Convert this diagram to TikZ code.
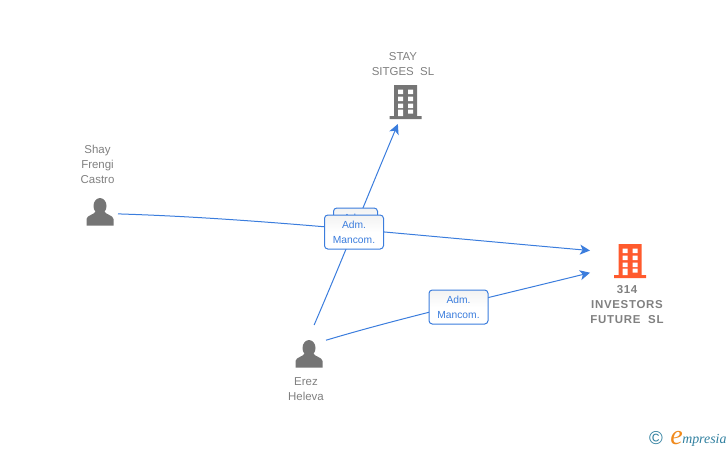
\documentclass[tikz,border=0pt]{standalone}
\usepackage{fontspec}
\setmainfont{Liberation Sans}
\newfontfamily\logofont{Liberation Serif}
\usepackage{xcolor}
\usetikzlibrary{arrows.meta}
\definecolor{linkblue}{HTML}{3B7DDD}
\definecolor{namegray}{HTML}{808080}
\definecolor{icongray}{HTML}{757575}
\definecolor{mainorange}{HTML}{FF5A2D}
\definecolor{logoteal}{HTML}{2F7F9F}
\definecolor{logoorange}{HTML}{F08A1D}
\tikzset{
  holder/.style={inner sep=0pt,outer sep=0pt,minimum width=#1},
  name text/.style={font=\fontsize{8.6pt}{11.25pt}\selectfont,text=namegray,align=center,inner sep=0pt},
  main text/.style={font=\fontsize{8.6pt}{11.25pt}\selectfont\bfseries\addfontfeature{LetterSpace=6},text=namegray,align=center,inner sep=0pt},
  role box/.style={draw=linkblue,line width=0.75pt,rounded corners=2.5pt,top color=black!5,bottom color=white,middle color=white,
    minimum width=44.25pt,minimum height=25.5pt,inner sep=0pt,align=center,text=linkblue,
    font=\fontsize{7.7pt}{11.25pt}\selectfont},
  link/.style={draw=linkblue,line width=0.75pt},
  arrow link/.style={link,-{Stealth[length=7.5pt,width=7.5pt,inset=2pt]}},
  office icon/.pic={
    \fill[pic actions] (-11.5,-17) rectangle (11.5,14) (-16,14) rectangle (16,17);
    \fill[white] \foreach \wy in {-12.5,-5.5,1.5} {
      (-7.5,\wy) rectangle (-2.5,\wy+4.5) (2.5,\wy) rectangle (7.5,\wy+4.5)};
    \fill[white] (-7.5,7.5) rectangle (-2.5,14) (2.5,7.5) rectangle (7.5,11.5);
  },
  person icon/.pic={
    \fill[pic actions] (0,-6) ellipse (6.5 and 8);
    \fill[pic actions] (-13.5,13.5) -- (-13.5,7) .. controls (-13,3) and (-6,3) .. (-4,-1)
      -- (4,-1) .. controls (6,3) and (13,3) .. (13.5,7) -- (13.5,13.5) -- cycle;
  }
}

\begin{document}
\begin{tikzpicture}[x=0.75pt,y=-0.75pt]
  \useasboundingbox (0,0) rectangle (728,450);

  % companies and people
  \node[holder=27pt,minimum height=33pt] (stay) at (405,102) {};
  \node[holder=60pt,minimum height=30pt] (investors) at (630,262) {};
  \node[holder=27pt,minimum height=27pt] (shay) at (100,212) {};
  \node[holder=25.5pt,minimum height=43.5pt] (erez) at (309,354) {};

  \pic[fill=icongray] at (405.5,102) {office icon};
  \pic[fill=mainorange] at (630,261) {office icon};
  \pic[fill=icongray] at (100,212) {person icon};
  \pic[fill=icongray] at (309,354) {person icon};

  \node[name text] (stayname) at (403,64.5) {STAY\\SITGES\ \ SL};
  \node[main text] (investorsname) at (627,305) {314\\INVESTORS\\FUTURE\ \ SL};
  \node[name text] (shayname) at (97.5,164) {Shay\\Frengi\\Castro};
  \node[name text] (erezname) at (306,389.5) {Erez\\Heleva};

  % links
  \draw[arrow link] (shay.-6) .. controls (250,218) and (380,232) .. (investors.164.6);
  \draw[arrow link] (erez.80) .. controls (340,265) and (370,190) .. (stay.252);
  \draw[arrow link] (erez.39.5) .. controls (400,318) and (500,295) .. (investors.195.4);

  % role boxes
  \node[role box,minimum width=33pt] (roleback) at (355.5,225) {Adm.\\\ };
  \node[role box] (rolefront) at (354,232) {Adm.\\Mancom.};
  \node[role box] (rolelow) at (458.5,307) {Adm.\\Mancom.};

  % logo
  \node[inner sep=0pt,text=logoteal,font=\fontsize{14pt}{14pt}\selectfont] (copyright) at (656,438.5) {©};
  \node[inner sep=0pt,anchor=base west,text=logoorange,font=\logofont\itshape\fontsize{21pt}{21pt}\selectfont] (logoe) at (670,444) {e};
  \node[inner sep=0pt,anchor=base west,text=logoteal,font=\logofont\itshape\fontsize{10.4pt}{11pt}\selectfont] (logoname) at (682,443) {mpresia};
\end{tikzpicture}
\end{document}
